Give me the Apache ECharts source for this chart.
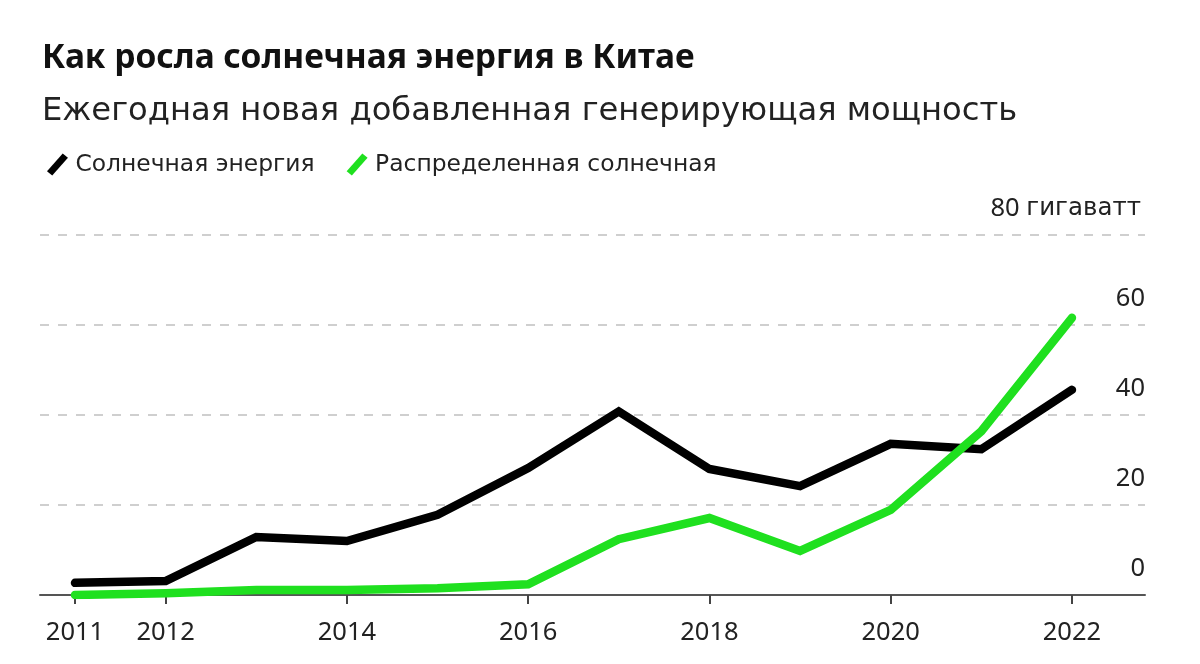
<!DOCTYPE html>
<html>
<head>
<meta charset="utf-8">
<script src="https://cdn.jsdelivr.net/npm/echarts@6/dist/echarts.min.js"></script>
<style>
html,body{margin:0;padding:0;background:#fff;}
#chart{width:1200px;height:664px;}
</style>
</head>
<body>
<div id="chart"></div>
<script>
const years = [2011, 2012, 2013, 2014, 2015, 2016, 2017, 2018, 2019, 2020, 2021, 2022];
const solarTotal = [2.7, 3.1, 12.9, 12.0, 17.8, 28.2, 40.8, 28.0, 24.2, 33.6, 32.4, 45.6];
const solarDistributed = [0, 0.4, 1.1, 1.1, 1.5, 2.4, 12.4, 17.1, 9.8, 18.9, 36.4, 61.6];
const xTickLabels = [2011, 2012, 2014, 2016, 2018, 2020, 2022];
const seriesNames = ['Солнечная энергия', 'Распределенная солнечная'];
const titleText = 'Как росла солнечная энергия в Китае';
const subtitleText = 'Ежегодная новая добавленная генерирующая мощность';
const yUnit = 'гигаватт';

const FONT = '"Noto Sans", sans-serif';
const WIDE = '"DejaVu Sans", "Noto Sans", sans-serif';
const slash = 'path://M0,17 L15,0 L20,4 L5,21 Z';

const chart = echarts.init(document.getElementById('chart'), null, {renderer: 'canvas'});
chart.setOption({
  animation: false,
  backgroundColor: '#fff',
  title: [
    {text: titleText, left: 37, top: 36, textStyle: {fontFamily: FONT, fontSize: 33.5, fontWeight: 'bold', color: '#111'}},
    {text: subtitleText, left: 37, top: 91, textStyle: {fontFamily: WIDE, fontSize: 32.2, fontWeight: 'normal', color: '#222'}}
  ],
  legend: {
    left: 42, top: 148,
    itemWidth: 22, itemHeight: 22, itemGap: 32,
    textStyle: {fontFamily: WIDE, fontSize: 23.4, color: '#222', padding: [0,0,0,2]},
    data: [
      {name: seriesNames[0], icon: slash, itemStyle: {color: '#000'}},
      {name: seriesNames[1], icon: slash, itemStyle: {color: '#1fe01f'}}
    ]
  },
  grid: {left: 40, right: 55, top: 235, bottom: 69, containLabel: false},
  xAxis: {
    type: 'value',
    min: 2010.614, max: 2022.806,
    axisLine: {show: true, lineStyle: {color: '#555', width: 2}},
    axisTick: {show: true, length: 9, inside: false, lineStyle: {color: '#444', width: 2}, customValues: xTickLabels},
    axisLabel: {fontFamily: FONT, fontSize: 25.5, color: '#222', margin: 25, customValues: xTickLabels, formatter: v => String(v)},
    splitLine: {show: false}
  },
  yAxis: {
    type: 'value',
    position: 'right',
    min: 0, max: 80, interval: 20,
    axisLine: {show: false},
    axisTick: {show: false},
    axisLabel: {
      inside: true, margin: 0, verticalAlign: 'bottom', align: 'right',
      padding: [0, 0, 13, 0],
      fontFamily: FONT, fontSize: 25.5, color: '#222',
      formatter: v => v === 80 ? '{n|80} {u|' + yUnit + '}' : String(v),
      rich: {
        n: {fontFamily: FONT, fontSize: 25.5, color: '#222'},
        u: {fontFamily: WIDE, fontSize: 24.5, color: '#222', padding: [0, 4, 0, 0]}
      }
    },
    splitLine: {show: true, lineStyle: {color: '#cfcfcf', width: 2, type: [9, 9]}}
  },
  series: [
    {
      name: seriesNames[0], type: 'line', showSymbol: false, symbol: 'none',
      data: years.map((y, i) => [y, solarTotal[i]]),
      lineStyle: {color: '#000', width: 8.5, cap: 'round', join: 'miter'},
      itemStyle: {color: '#000'}, z: 3
    },
    {
      name: seriesNames[1], type: 'line', showSymbol: false, symbol: 'none',
      data: years.map((y, i) => [y, solarDistributed[i]]),
      lineStyle: {color: '#1fe01f', width: 8.5, cap: 'round', join: 'miter'},
      itemStyle: {color: '#1fe01f'}, z: 4
    }
  ]
});
</script>
</body>
</html>
